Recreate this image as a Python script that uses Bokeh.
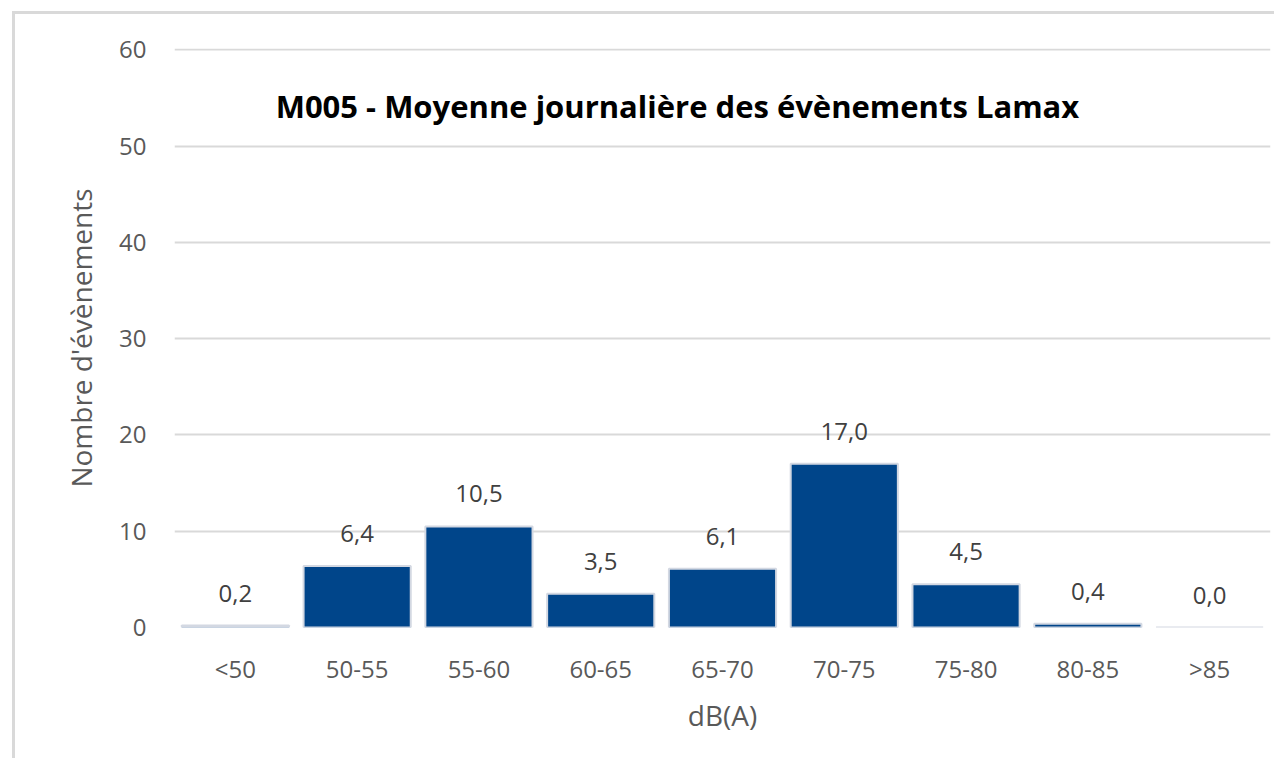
from bokeh.plotting import figure
from bokeh.models import ColumnDataSource, FactorRange, Range1d, Label, LabelSet, FixedTicker
from bokeh.core.properties import value
from bokeh.embed import file_html
from bokeh.resources import INLINE

categories = ["<50", "50-55", "55-60", "60-65", "65-70", "70-75", "75-80", "80-85", ">85"]
values = [0.2, 6.4, 10.5, 3.5, 6.1, 17.0, 4.5, 0.4, 0.0]
value_labels = ["0,2", "6,4", "10,5", "3,5", "6,1", "17,0", "4,5", "0,4", "0,0"]
y_ticks = [0, 10, 20, 30, 40, 50, 60]

title_text = "M005 - Moyenne journalière des évènements Lamax"
x_title = "dB(A)"
y_title = "Nombre d'évènements"

source = ColumnDataSource(dict(cat=categories, val=values, lab=value_labels))

p = figure(
    x_range=FactorRange(*categories),
    y_range=Range1d(0, 60.15),
    width=1262, height=747,
    output_backend="svg", toolbar_location=None,
    min_border_left=159, min_border_right=7, min_border_top=34, min_border_bottom=134,
)
p.styles = {"position": "relative", "left": "12px", "top": "11px",
            "border-top": "3px solid #d9d9d9", "border-left": "3px solid #d9d9d9"}
p.outline_line_color = None
p.background_fill_color = "white"
p.border_fill_color = "white"

p.vbar(x="cat", top="val", width=0.88, source=source,
       fill_color="#00458A", line_color="#D3D8E2", line_width=2)

labels = LabelSet(x="cat", y="val", text="lab", source=source,
                  text_align="center", text_baseline="bottom", y_offset=24,
                  text_font=value("Open Sans"), text_font_size=value("24px"),
                  text_color="#404040")
p.add_layout(labels)

title = Label(x=4.13, y=54.2, text=title_text, text_align="center", text_baseline="middle",
              text_font="Open Sans", text_font_size="31px", text_font_style="bold",
              text_color="black")
p.add_layout(title)

p.yaxis.ticker = FixedTicker(ticks=y_ticks)
p.ygrid.ticker = FixedTicker(ticks=y_ticks)
p.xgrid.grid_line_color = None
p.ygrid.grid_line_color = "#D9D9D9"
p.ygrid.grid_line_width = 2

for ax in (p.xaxis, p.yaxis):
    ax.axis_line_color = None
    ax.major_tick_line_color = None
    ax.minor_tick_line_color = None
    ax.major_label_text_font = "Open Sans"
    ax.major_label_text_font_size = "24px"
    ax.major_label_text_color = "#595959"
    ax.axis_label_text_font = "Open Sans"
    ax.axis_label_text_font_size = "28px"
    ax.axis_label_text_font_style = "normal"
    ax.axis_label_text_color = "#595959"

p.yaxis.major_label_standoff = 22
p.yaxis.axis_label = y_title
p.yaxis.axis_label_standoff = 16
p.xaxis.major_label_standoff = 18
p.xaxis.axis_label = x_title
p.xaxis.axis_label_standoff = 8

open("out.html", "w").write(file_html(p, INLINE))
